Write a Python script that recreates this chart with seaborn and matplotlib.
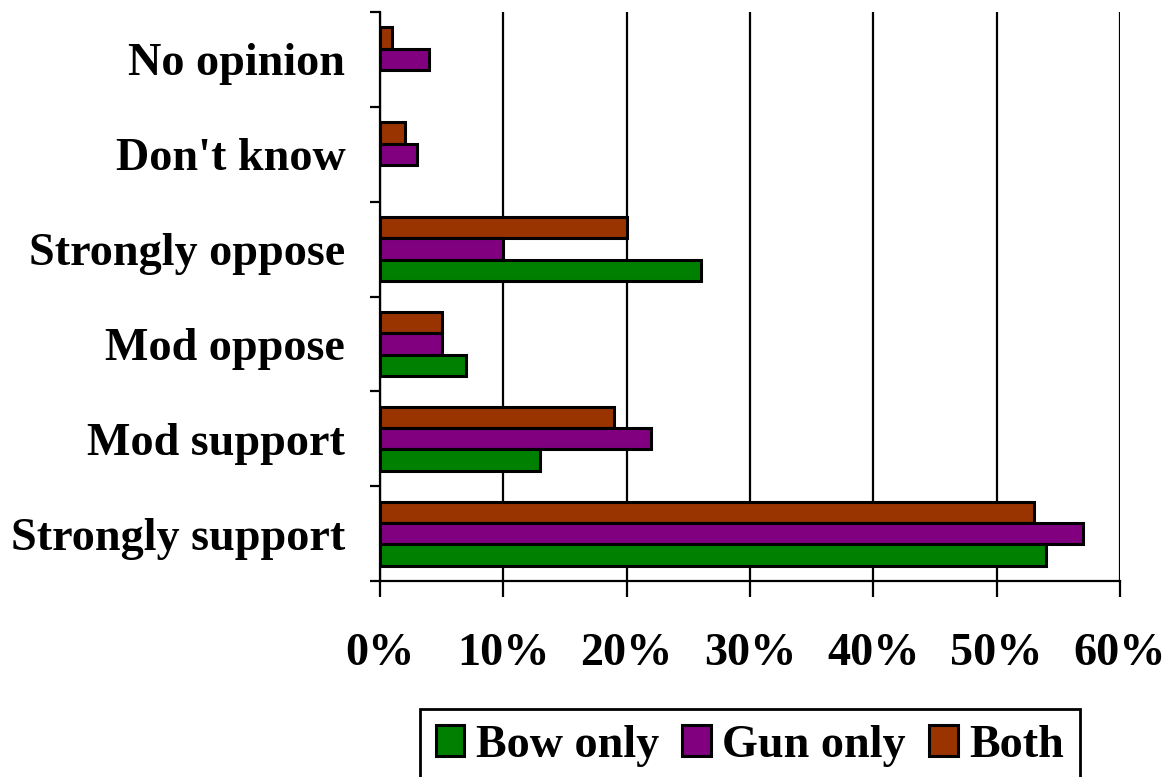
import matplotlib
matplotlib.use("Agg")
import matplotlib.pyplot as plt
from matplotlib.patches import Patch
from matplotlib.ticker import FixedLocator, PercentFormatter
import seaborn as sns
import pandas as pd

# Response categories, listed top to bottom
categories = ["No opinion", "Don't know", "Strongly oppose", "Mod oppose",
              "Mod support", "Strongly support"]

# Percent of respondents in each hunter group
bow_only = [0, 0, 26, 7, 13, 54]
gun_only = [4, 3, 10, 5, 22, 57]
both = [1, 2, 20, 5, 19, 53]

groups = ["Bow only", "Gun only", "Both"]
colors = {"Bow only": "#008000", "Gun only": "#800080", "Both": "#993300"}
x_ticks = [0, 10, 20, 30, 40, 50, 60]

rows = []
for g, vals in zip(groups, [bow_only, gun_only, both]):
    for c, v in zip(categories, vals):
        rows.append({"Response": c, "Group": g, "Percent": v})
df = pd.DataFrame(rows)

sns.set_style("white")
plt.rcParams["font.family"] = ["Liberation Serif", "DejaVu Serif"]
plt.rcParams["font.weight"] = "bold"
for key in ["text.color", "axes.labelcolor", "xtick.color", "ytick.color"]:
    plt.rcParams[key] = "black"

fig = plt.figure(figsize=(11.75, 7.77), dpi=100)
ax = fig.add_axes([380 / 1175, 1 - 581 / 777, 740 / 1175, 569 / 777])

# Within each row the top bar is "Both", then "Gun only", then "Bow only"
sns.barplot(data=df, y="Response", x="Percent", hue="Group",
            order=categories, hue_order=["Both", "Gun only", "Bow only"],
            palette=colors, orient="h", width=0.675, gap=0,
            edgecolor="black", linewidth=2.2, saturation=1,
            legend=False, ax=ax, zorder=3)

# Empty bars leave no outline
for p in ax.patches:
    if p.get_width() == 0:
        p.set_linewidth(0)

ax.set_xlim(0, 60)
ax.set_ylim(len(categories) - 0.5, -0.5)
ax.set_xticks(x_ticks)
ax.xaxis.set_major_formatter(PercentFormatter(decimals=0))
ax.grid(axis="x", color="black", linewidth=1.6, zorder=0)
ax.grid(axis="y", visible=False)
ax.set_axisbelow(True)

# Category names centered on rows; short ticks at the row boundaries
ax.set_yticks(range(len(categories)))
ax.set_yticklabels(categories)
ax.yaxis.set_minor_locator(FixedLocator([i - 0.5 for i in range(len(categories) + 1)]))
ax.tick_params(axis="y", which="major", length=0, pad=25, labelsize=33.2,
               labelcolor="black")
ax.tick_params(axis="y", which="minor", left=True, length=7, width=1.6, color="black")
ax.tick_params(axis="x", which="major", bottom=True, length=11.5, width=1.6,
               color="black", pad=26, labelsize=33.2, labelcolor="black")
for lab in ax.get_xticklabels() + ax.get_yticklabels():
    lab.set_fontweight("bold")

ax.set_xlabel("")
ax.set_ylabel("")
for side in ["top", "right"]:
    ax.spines[side].set_visible(False)
for side in ["left", "bottom"]:
    ax.spines[side].set_color("black")
    ax.spines[side].set_linewidth(1.6)

handles = [Patch(facecolor=colors[g], edgecolor="black", linewidth=2.2, label=g)
           for g in groups]
leg = fig.legend(handles=handles, loc="center", bbox_to_anchor=(750 / 1175, 1 - 746 / 777),
                 ncol=3, frameon=True, fancybox=False, edgecolor="black", framealpha=1,
                 prop={"family": "Liberation Serif", "weight": "bold", "size": 33.2},
                 handlelength=0.62, handleheight=0.65, handletextpad=0.25,
                 columnspacing=0.5, borderpad=0.35, borderaxespad=0)
frame = leg.get_frame()
frame.set_linewidth(2)
frame.set_edgecolor("black")
for t in leg.get_texts():
    t.set_color("black")

fig.savefig("out.png", dpi=100, facecolor="white")
